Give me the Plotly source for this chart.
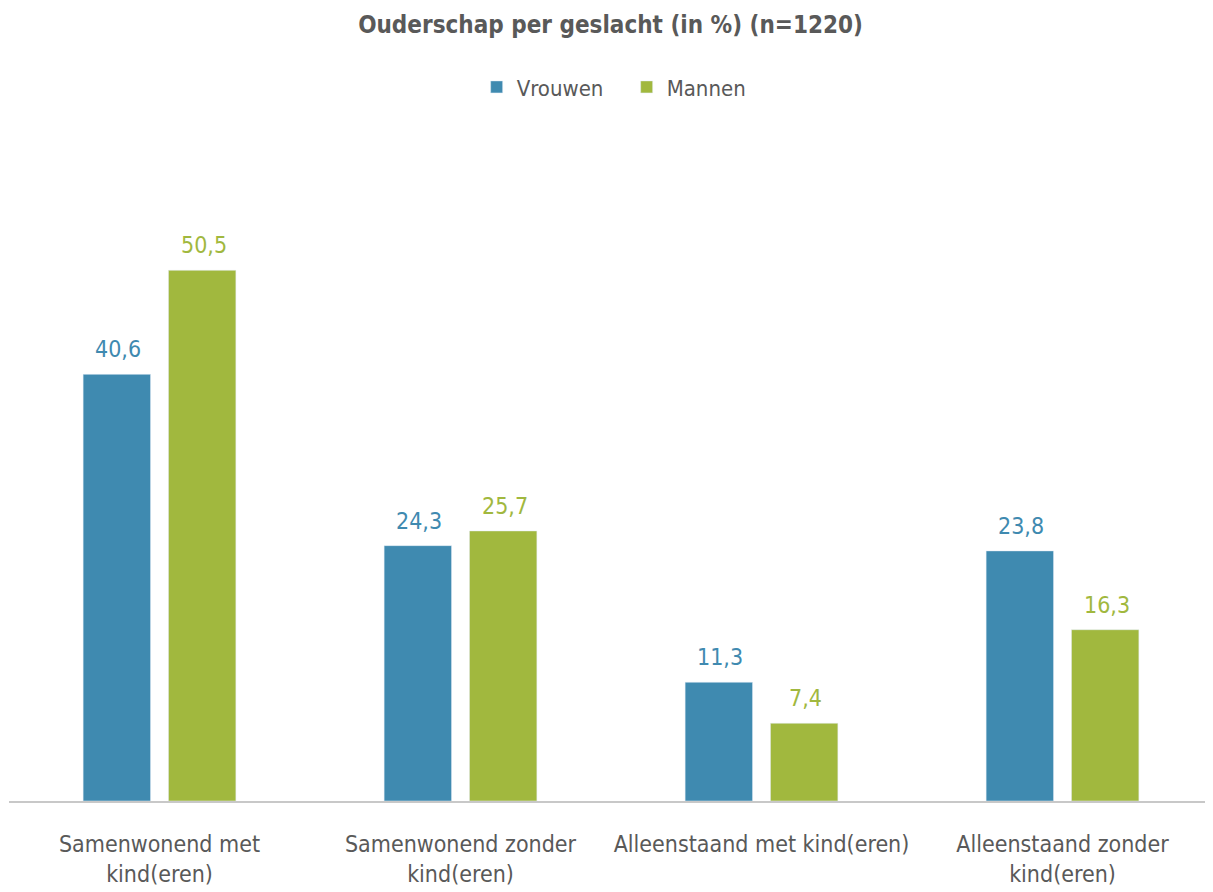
import plotly.graph_objects as go

categories = ["Samenwonend met<br>kind(eren)", "Samenwonend zonder<br>kind(eren)",
              "Alleenstaand met kind(eren)", "Alleenstaand zonder<br>kind(eren)"]
vrouwen = [40.6, 24.3, 11.3, 23.8]
mannen = [50.5, 25.7, 7.4, 16.3]

blue = "#3F8AB0"
green = "#A1B83E"
grey = "#595959"
font_family = "DejaVu Sans Condensed, Roboto Condensed, sans-serif"

def fmt(v):
    return f"{v:.1f}".replace(".", ",")

fig = go.Figure()
fig.add_trace(go.Bar(x=categories, y=vrouwen, name="Vrouwen", marker_color=blue))
fig.add_trace(go.Bar(x=categories, y=mannen, name="Mannen", marker_color=green))

# value labels above the bars
for vals, col, shift in [(vrouwen, blue, -42), (mannen, green, 44)]:
    for c, v in zip(categories, vals):
        fig.add_annotation(x=c, y=v, text=fmt(v), showarrow=False, xshift=shift, yshift=25,
                           yanchor="middle", font=dict(color=col, size=23))

fig.update_layout(
    width=1205, height=884,
    font=dict(family=font_family, color=grey, size=22),
    title=dict(text="<b>Ouderschap per geslacht (in %) (n=1220)</b>", x=0.5, xanchor="center",
               y=0.981, yanchor="middle", font=dict(size=24, color=grey)),
    legend=dict(orientation="h", x=0.513, xanchor="center", y=1.08, yanchor="middle",
                font=dict(size=22), traceorder="normal", entrywidth=105, entrywidthmode="pixels"),
    barmode="group", bargap=0.433, bargroupgap=0.21,
    plot_bgcolor="white", paper_bgcolor="white",
    margin=dict(l=1, r=0, t=132, b=91, autoexpand=False),
    xaxis=dict(showline=True, linecolor="#C8C8C8", linewidth=2, ticks="",
               tickfont=dict(size=23), automargin=False, ticklabelstandoff=21),
    yaxis=dict(range=[0, 62.9], visible=False, showgrid=False, automargin=False),
    showlegend=True,
)

fig.write_html("out.html")
